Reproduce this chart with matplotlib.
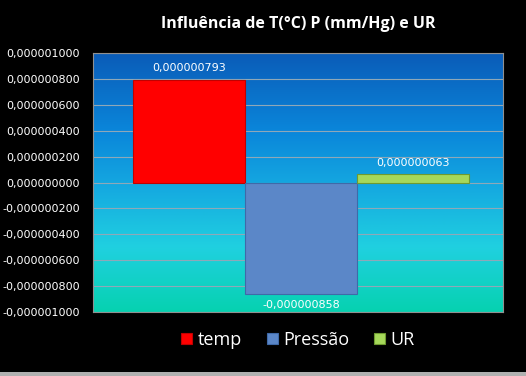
import numpy as np
import matplotlib
matplotlib.use('Agg')
import matplotlib.pyplot as plt
from matplotlib.colors import LinearSegmentedColormap
from matplotlib.patches import Rectangle

# data
series = ['temp', 'Pressão', 'UR']
values = [0.000000793, -0.000000858, 0.000000063]
value_labels = ['0,000000793', '-0,000000858', '0,000000063']
colors = ['#FF0000', '#5B87C8', '#A6D85A']
edges = ['#C00000', '#3F6AA8', '#6E9A30']
yticks = np.arange(-1e-6, 1.0001e-6, 2e-7)

def fmt(v):
    s = '%.9f' % abs(v)
    s = s.replace('.', ',')
    if v < -1e-12:
        s = '-' + s
    return s

fig = plt.figure(figsize=(5.26, 3.76), dpi=100)
fig.patch.set_facecolor('black')
ax = fig.add_axes([93/526, 1-312/376, 410/526, 259/376])

# background gradient of plot area (dark blue top -> teal bottom)
grad = LinearSegmentedColormap.from_list('bg', [
    (0.0, '#0B5CB8'), (0.3, '#0A86DA'), (0.5, '#14A6E0'),
    (0.75, '#20D0E0'), (1.0, '#06D2B0')])
g = np.linspace(0, 1, 256).reshape(-1, 1)
ax.imshow(g, cmap=grad, aspect='auto', extent=[0, 1, -1e-6, 1e-6],
          zorder=0, vmin=0, vmax=1)

ax.set_xlim(0, 1)
ax.set_ylim(-1e-6, 1e-6)
for t in yticks:
    ax.axhline(t, color='#8FA8B8', lw=0.8, zorder=1)

# bars (one category, three series)
w = 112/410
x0 = 40/410
for i in range(3):
    ax.bar(x0 + w*i + w/2, values[i], width=w, color=colors[i],
           edgecolor=edges[i], lw=0.8, zorder=3, label=series[i])
    if values[i] >= 0:
        ax.text(x0 + w*i + w/2, values[i] + 0.05e-6, value_labels[i],
                ha='center', va='bottom', color='white', fontsize=8, zorder=4)
    else:
        ax.text(x0 + w*i + w/2, values[i] - 0.05e-6, value_labels[i],
                ha='center', va='top', color='white', fontsize=8, zorder=4)

ax.set_yticks(yticks)
ax.set_yticklabels([fmt(v) for v in yticks], color='white', fontsize=8)
ax.tick_params(axis='y', length=0, pad=9.5)
ax.set_xticks([])
for s in ax.spines.values():
    s.set_color('#909090')
    s.set_linewidth(0.8)

fig.text(298/526, 1-24/376, 'Influência de T(°C) P (mm/Hg) e UR', ha='center',
         va='center', color='white', fontsize=11.5, fontweight='bold',
         family='Open Sans')

leg = fig.legend(loc='center', bbox_to_anchor=(298/526, 1-340/376), ncol=3,
                 frameon=False, prop={'family': 'Open Sans', 'size': 13},
                 labelcolor='white', handlelength=0.6, handleheight=0.6,
                 handletextpad=0.3, columnspacing=1.4)

fig.patches.append(Rectangle((0, 0), 1, 4/376, transform=fig.transFigure,
                             facecolor='#B0B0B0', edgecolor='none'))

fig.savefig('out.png', dpi=100, facecolor='black')
